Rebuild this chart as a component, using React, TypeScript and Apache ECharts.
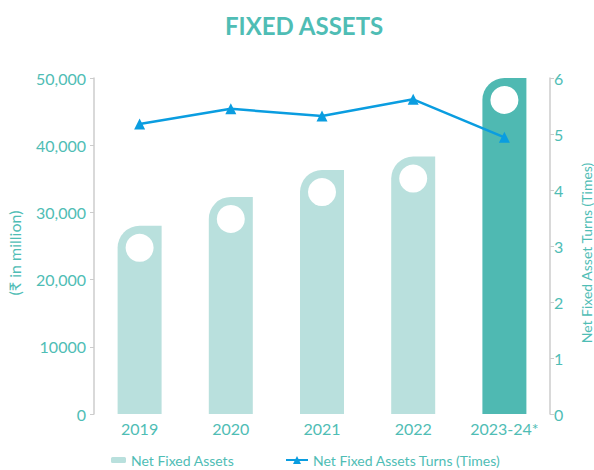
import React, { useEffect, useRef } from "react";
import * as echarts from "echarts";

const categories = ["2019", "2020", "2021", "2022", "2023-24*"];
const netFixedAssets = [28000, 32300, 36300, 38300, 50000];
const assetTurns = [5.18, 5.45, 5.32, 5.62, 4.94];
const leftTickLabels = ["0", "10000", "20,000", "30,000", "40,000", "50,000"];
const rightTickLabels = ["0", "1", "2", "3", "4", "5", "6"];

const TEAL = "#4fbdb5";
const LIGHT = "#b9e0dd";
const DARK = "#4fb9b2";
const BLUE = "#0a9de0";
const FONT = "Lato";

export default function App() {
  const ref = useRef<HTMLDivElement>(null);
  useEffect(() => {
    if (!ref.current) return;
    const chart = echarts.init(ref.current, null, { renderer: "svg" });
    chart.setOption({
      animation: false,
      textStyle: { fontFamily: FONT },
      title: {
        text: "FIXED ASSETS",
        left: 220,
        top: 8,
        textStyle: { color: TEAL, fontSize: 24, fontWeight: "bold", fontFamily: FONT },
      },
      legend: [
        {
          data: [{ name: "Net Fixed Assets", icon: "roundRect" }],
          left: 111,
          top: 453,
          padding: 0,
          itemWidth: 15,
          itemHeight: 6,
          textStyle: { color: TEAL, fontSize: 14, fontFamily: FONT },
        },
        {
          data: ["Net Fixed Assets Turns (Times)"],
          left: 285,
          top: 453,
          padding: 0,
          itemWidth: 22,
          itemHeight: 10,
          textStyle: { color: TEAL, fontSize: 14, fontFamily: FONT },
        },
      ],
      grid: { left: 94, right: 44, top: 78, bottom: 56, outerBoundsMode: "none", containLabel: false },
      xAxis: {
        type: "category",
        data: categories,
        axisLine: { show: false },
        axisTick: { show: false },
        axisLabel: { color: TEAL, fontSize: 16, margin: 6, interval: 0, fontFamily: FONT },
      },
      yAxis: [
        {
          type: "value",
          min: 0,
          max: 50000,
          interval: 10000,
          name: "(₹ in million)",
          nameLocation: "middle",
          nameRotate: 90,
          nameGap: 72,
          nameMoveOverlap: false,
          nameTextStyle: { color: TEAL, fontSize: 16, fontFamily: FONT, padding: [0, 14, 0, 0] },
          axisLine: { show: true, lineStyle: { color: "#cccccc", width: 1.5 } },
          axisTick: { show: true, length: 4, lineStyle: { color: "#cccccc" } },
          splitLine: { show: false },
          axisLabel: {
            color: TEAL,
            fontSize: 16,
            margin: 8,
            fontFamily: FONT,
            formatter: (v: number) => leftTickLabels[Math.round(v / 10000)] ?? "",
          },
        },
        {
          type: "value",
          min: 0,
          max: 6,
          interval: 1,
          position: "right",
          name: "Net Fixed Asset Turns (Times)",
          nameLocation: "middle",
          nameRotate: 90,
          nameGap: 29,
          nameMoveOverlap: false,
          nameTextStyle: { color: TEAL, fontSize: 14, fontFamily: FONT, padding: [0, 14, 0, 0] },
          axisLine: { show: true, lineStyle: { color: "#cccccc", width: 1.5 } },
          axisTick: { show: true, length: 4, lineStyle: { color: "#cccccc" } },
          splitLine: { show: false },
          axisLabel: {
            color: TEAL,
            fontSize: 16,
            margin: 4,
            fontFamily: FONT,
            formatter: (v: number) => rightTickLabels[Math.round(v)] ?? "",
          },
        },
      ],
      series: [
        {
          name: "Net Fixed Assets",
          type: "bar",
          yAxisIndex: 0,
          barWidth: 44,
          data: netFixedAssets.map((v, i) => ({
            value: v,
            itemStyle: { color: i === netFixedAssets.length - 1 ? DARK : LIGHT },
          })),
          itemStyle: { color: LIGHT, borderRadius: [22, 0, 0, 0] },
          z: 1,
        },
        {
          name: "circles",
          type: "scatter",
          yAxisIndex: 0,
          data: netFixedAssets,
          symbol: "circle",
          symbolSize: 28,
          symbolOffset: [0, 22],
          itemStyle: { color: "#ffffff", opacity: 1 },
          silent: true,
          z: 3,
        },
        {
          name: "Net Fixed Assets Turns (Times)",
          type: "line",
          yAxisIndex: 1,
          data: assetTurns,
          symbol: "triangle",
          symbolSize: 11,
          showAllSymbol: true,
          lineStyle: { color: BLUE, width: 2.5 },
          itemStyle: { color: BLUE },
          z: 4,
        },
      ],
    });
    return () => chart.dispose();
  }, []);
  return (
    <div
      ref={ref}
      style={{ position: "fixed", left: 0, top: 0, width: 594, height: 470, background: "#fff" }}
    />
  );
}
